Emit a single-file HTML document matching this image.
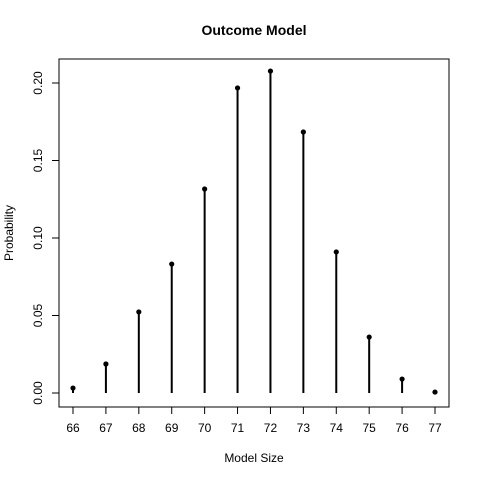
<!DOCTYPE html>
<html><head><meta charset="utf-8"><style>body{margin:0;background:#fff}svg{display:block}text{font-family:"Liberation Sans",sans-serif;fill:#000}</style></head>
<body>
<svg id="chart" width="480" height="480" viewBox="0 0 480 480">
<text x="254" y="35" text-anchor="middle" font-size="14" font-weight="bold">Outcome Model</text>
<rect x="59" y="59" width="390" height="348" fill="none" stroke="#000"/>
<text x="254" y="462" text-anchor="middle" font-size="12">Model Size</text>
<text x="13" y="233" text-anchor="middle" font-size="12" transform="rotate(-90 13 233)">Probability</text>
<g id="axes"></g><g id="marks"></g>
</svg>
<script>
const categories=[66,67,68,69,70,71,72,73,74,75,76,77];
const probs=[0.0032,0.0187,0.0523,0.0832,0.1316,0.1968,0.2077,0.1684,0.091,0.0361,0.009,0.0006];
const yTicks=[0,0.05,0.10,0.15,0.20];
const yTickLabels=["0.00","0.05","0.10","0.15","0.20"];
const NS="http://www.w3.org/2000/svg";
function xs(v){return 73+(v-66)*(435-73)/11;}
function ys(v){return 393-v*(393-83)/0.2;}
function mk(t,a,p){const e=document.createElementNS(NS,t);for(const k in a)e.setAttribute(k,a[k]);p.appendChild(e);return e;}
const ax=document.getElementById('axes'),mg=document.getElementById('marks');
mk('line',{x1:xs(66),x2:xs(77),y1:407,y2:407,stroke:'#000'},ax);
categories.forEach(c=>{
 const l=mk('line',{x1:xs(c),x2:xs(c),y1:407,y2:414,stroke:'#000'},ax);
 
 
 const t=mk('text',{x:xs(c),y:432,'text-anchor':'middle','font-size':12},ax);t.textContent=c;
 
 
});
mk('line',{x1:59,x2:59,y1:ys(0),y2:ys(0.2),stroke:'#000'},ax);
yTicks.forEach((v,i)=>{
 const l=mk('line',{x1:52,x2:59,y1:ys(v),y2:ys(v),stroke:'#000'},ax);
 
 
 const y=ys(v);
 const t=mk('text',{x:42,y:y,'text-anchor':'middle','font-size':12,transform:`rotate(-90 42 ${y})`},ax);t.textContent=yTickLabels[i];
 
 
});
categories.forEach((c,i)=>{
 const l=mk('line',{x1:xs(c),x2:xs(c),y1:ys(0),y2:ys(probs[i]),stroke:'#000','stroke-width':2},mg);
 
 
 const p=mk('circle',{cx:xs(c),cy:ys(probs[i]),r:2.6,fill:'#000'},mg);
 
 
});
</script>
</body></html>
